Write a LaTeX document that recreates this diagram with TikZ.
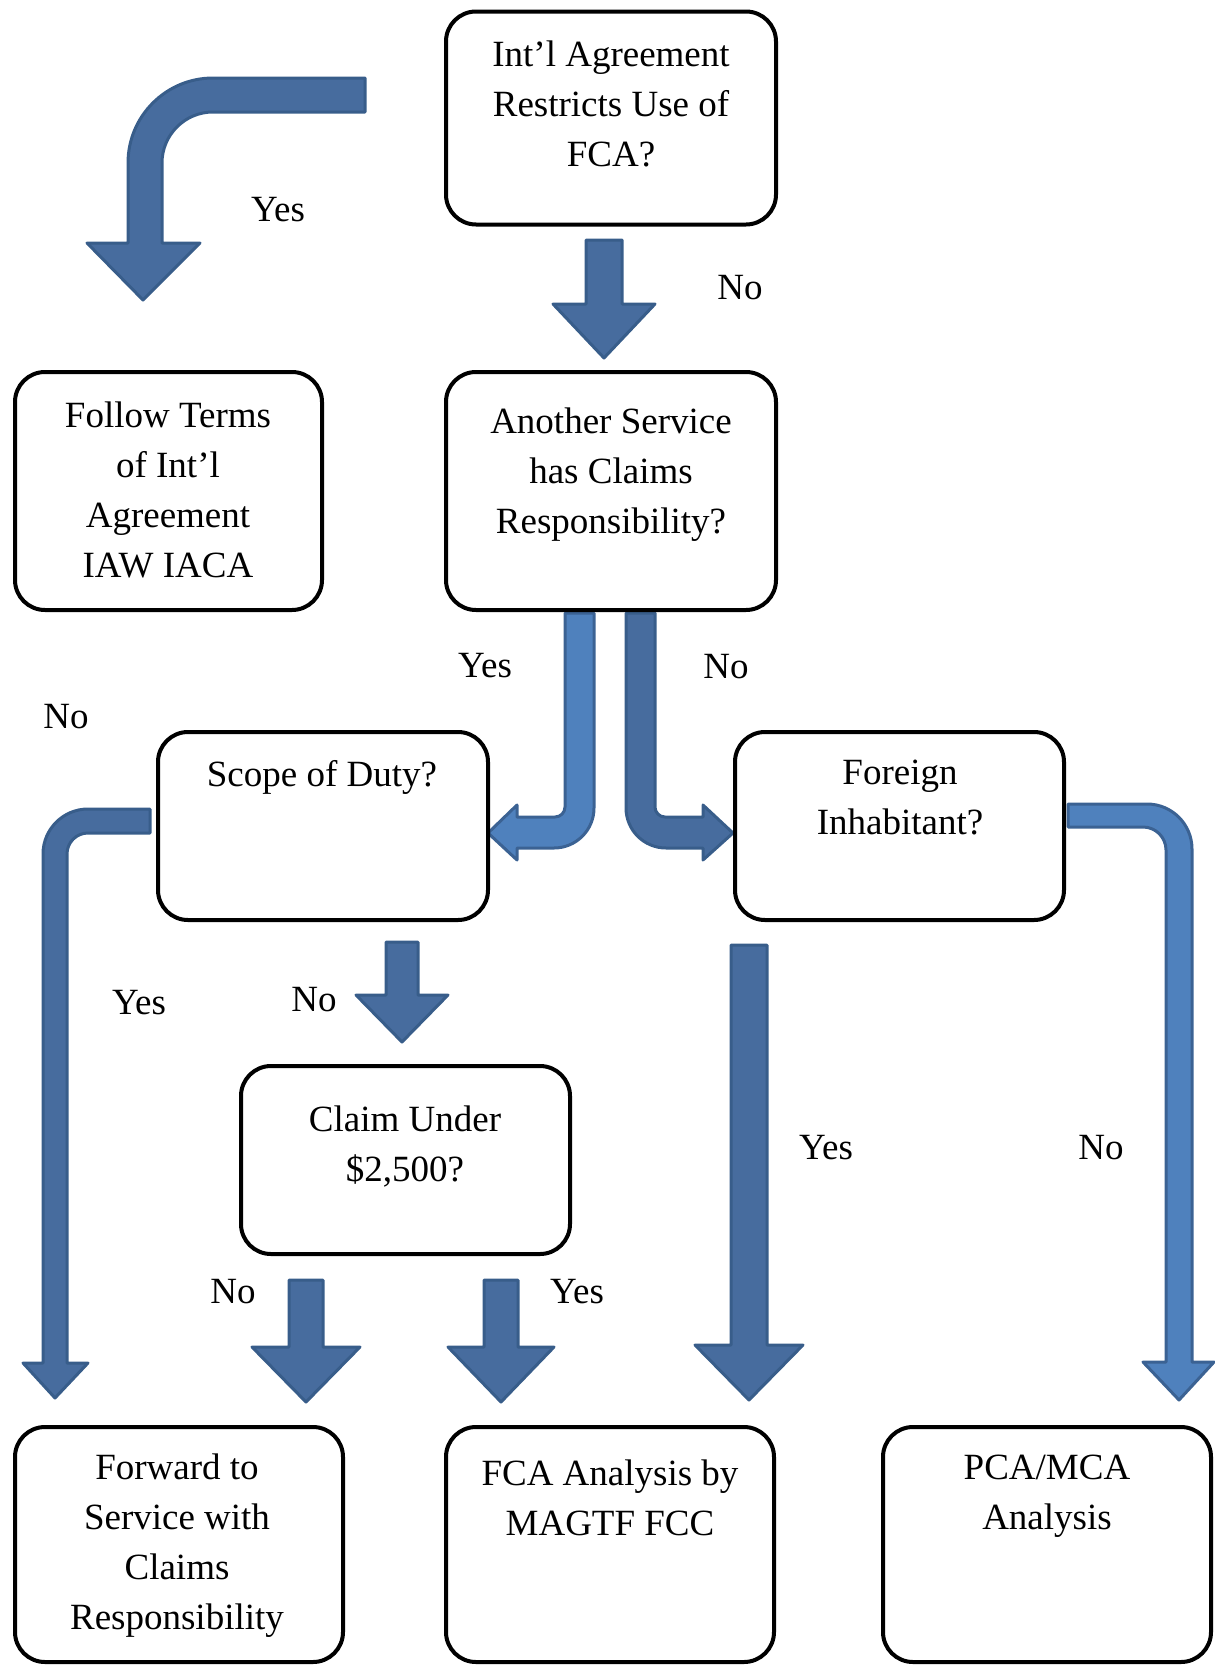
\documentclass[tikz,border=0pt]{standalone}
\usepackage{fontspec}
\setmainfont{Liberation Serif}
\definecolor{darkfill}{HTML}{476C9E}
\definecolor{darkline}{HTML}{385D8A}
\definecolor{lightfill}{HTML}{4F81BD}
\definecolor{lightline}{HTML}{3B6293}
\tikzset{
  box/.style={draw=black, line width=2pt, rounded corners=15pt, inner sep=0pt},
  txt/.style={align=center, inner sep=0pt, font=\fontsize{18.5}{25}\selectfont},
  lbl/.style={inner sep=0pt, font=\fontsize{18.5}{25}\selectfont},
  darkarrow/.style={fill=darkfill, draw=darkline, line width=1.5pt, line join=round},
  lightarrow/.style={fill=lightfill, draw=lightline, line width=1.5pt, line join=round}
}
\newcommand\blockdown[7]{\filldraw[#7] (#1-#3,#2) -- (#1+#3,#2) -- (#1+#3,#4) -- (#1+#5,#4) -- (#1,#6) -- (#1-#5,#4) -- (#1-#3,#4) -- cycle;}
\begin{document}
\begin{tikzpicture}[x=0.5pt, y=-0.5pt]
\useasboundingbox (0,0) rectangle (1215,1665);

% ---- block arrows ----
% top-left bent arrow (Yes)
\filldraw[darkarrow] (365,78) -- (213,78) arc[start angle=90, end angle=180, radius=42.5pt]
  -- (128,243) -- (87,243) -- (143,300) -- (200,243) -- (162,243) -- (162,163)
  arc[start angle=180, end angle=90, radius=25.5pt] -- (365,112) -- cycle;
% A -> C
\blockdown{604}{240}{18}{304}{51}{358}{darkarrow}
% C -> D (Yes, light)
\filldraw[lightarrow] (565,613) -- (594,613) -- (594,808) arc[start angle=0, end angle=-90, radius=20pt]
  -- (517,848) -- (517,860) -- (488,833) -- (517,805) -- (517,817) -- (555,817)
  arc[start angle=-90, end angle=0, radius=5pt] -- cycle;
% C -> E (No, dark)
\filldraw[darkarrow] (655,613) -- (626,613) -- (626,808) arc[start angle=180, end angle=270, radius=20pt]
  -- (703,848) -- (703,860) -- (733,833) -- (703,805) -- (703,817) -- (665,817)
  arc[start angle=270, end angle=180, radius=5pt] -- cycle;
% D -> G (Yes, left long)
\filldraw[darkarrow] (150,809) -- (88,809) arc[start angle=90, end angle=180, radius=22.5pt]
  -- (43,1363) -- (23,1363) -- (55,1398) -- (88,1363) -- (67,1363) -- (67,854)
  arc[start angle=180, end angle=90, radius=10.5pt] -- (150,833) -- cycle;
% E -> I (No, right long, light)
\filldraw[lightarrow] (1068,804) -- (1147,804) arc[start angle=90, end angle=0, radius=22.5pt]
  -- (1192,1362) -- (1214,1362) -- (1179,1400) -- (1143,1362) -- (1166,1362) -- (1166,850)
  arc[start angle=0, end angle=90, radius=11.5pt] -- (1068,827) -- cycle;
% D -> F
\blockdown{402}{942}{16}{995}{46}{1042}{darkarrow}
% F -> G
\blockdown{306}{1280}{17}{1347}{54}{1402}{darkarrow}
% F -> H
\blockdown{501}{1280}{17}{1347}{53}{1402}{darkarrow}
% E -> H (Yes)
\blockdown{749}{945}{18}{1345}{54}{1400}{darkarrow}

% ---- boxes ----
\node[box, minimum width=165pt, minimum height=106.5pt] (A) at (611,118) {};
\node[box, minimum width=153.5pt, minimum height=119pt] (B) at (168.5,491) {};
\node[box, minimum width=165pt, minimum height=119pt] (C) at (611,491) {};
\node[box, minimum width=165pt, minimum height=94pt] (D) at (323,826) {};
\node[box, minimum width=164.5pt, minimum height=94pt] (E) at (899.5,826) {};
\node[box, minimum width=164.5pt, minimum height=94pt] (F) at (405.5,1160) {};
\node[box, minimum width=164pt, minimum height=117.5pt] (G) at (179,1544.5) {};
\node[box, minimum width=164pt, minimum height=117.5pt] (H) at (610,1544.5) {};
\node[box, minimum width=164pt, minimum height=117.5pt] (I) at (1047,1544.5) {};

% ---- box texts ----
\node[txt] (tA) at (611,104) {Int’l Agreement\\Restricts Use of\\FCA?};
\node[txt] (tB) at (168,489.5) {Follow Terms\\of Int’l\\Agreement\\IAW IACA};
\node[txt] (tC) at (611,475) {Another Service\\has Claims\\Responsibility?};
\node[txt] (tD) at (322,777) {Scope of Duty?};
\node[txt] (tE) at (900,797.5) {Foreign\\Inhabitant?};
\node[txt] (tF) at (405,1146) {Claim Under\\\$2,500?};
\node[txt] (tG) at (177,1545.5) {Forward to\\Service with\\Claims\\Responsibility};
\node[txt] (tH) at (610,1498) {FCA Analysis by\\MAGTF FCC};
\node[txt] (tI) at (1047,1496.5) {PCA/MCA\\Analysis};

% ---- labels ----
\node[lbl] (l1) at (278,210) {Yes};
\node[lbl] (l2) at (740,288) {No};
\node[lbl] (l3) at (485,666) {Yes};
\node[lbl] (l4) at (726,667) {No};
\node[lbl] (l5) at (66,717) {No};
\node[lbl] (l6) at (139,1003) {Yes};
\node[lbl] (l7) at (314,1000) {No};
\node[lbl] (l8) at (826,1148) {Yes};
\node[lbl] (l9) at (1101,1148) {No};
\node[lbl] (l10) at (233,1292) {No};
\node[lbl] (l11) at (577,1292) {Yes};
\end{tikzpicture}
\end{document}
